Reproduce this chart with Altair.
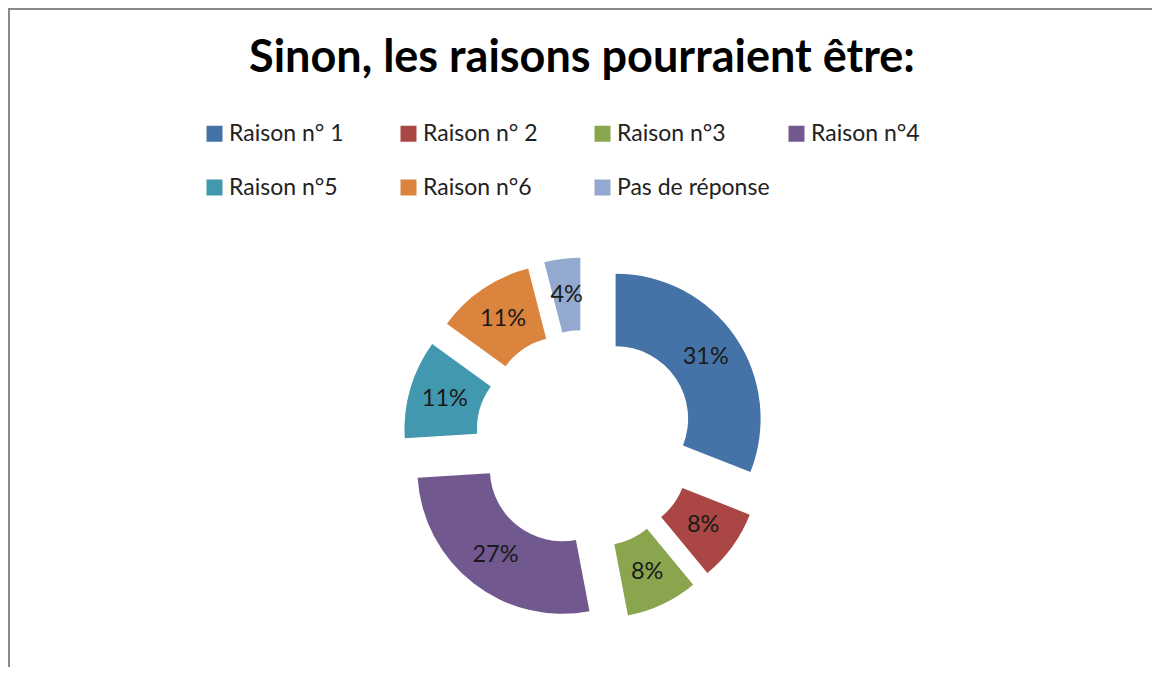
import altair as alt
import pandas as pd

# ---- data ----
title_text = "Sinon, les raisons pourraient être:"
categories = ["Raison n° 1", "Raison n° 2", "Raison n°3", "Raison n°4",
              "Raison n°5", "Raison n°6", "Pas de réponse"]
values = [31, 8, 8, 27, 11, 11, 4]
colors = ["#4572A7", "#AA4643", "#89A54E", "#71588F",
          "#4198AF", "#DB843D", "#93A9CF"]

df = pd.DataFrame({"category": categories, "value": values,
                   "idx": list(range(len(categories)))})

W, H = 1144, 659
CX, CY = 577, 431.5      # donut centre (view px)
EXPLODE = 37             # radial offset of each slice
R_OUT, R_IN = 145, 72.5
R_LAB = 109

base = alt.Chart(df).transform_joinaggregate(
    total="sum(value)"
).transform_window(
    cum="sum(value)", sort=[alt.SortField("idx")], frame=[None, 0]
).transform_calculate(
    t1="2*PI*(datum.cum - datum.value)/datum.total",
    t2="2*PI*datum.cum/datum.total",
).transform_calculate(
    tm="(datum.t1 + datum.t2)/2"
).transform_calculate(
    px=f"{CX} + {EXPLODE}*sin(datum.tm)",
    py=f"{CY} - {EXPLODE}*cos(datum.tm)",
).transform_calculate(
    lx=f"datum.px + {R_LAB}*sin(datum.tm)",
    ly=f"datum.py - {R_LAB}*cos(datum.tm)",
    label="datum.value + '%'",
)

arcs = base.mark_arc(radius=R_OUT, radius2=R_IN, stroke=None).encode(
    theta=alt.Theta("t1:Q", scale=None, stack=None),
    theta2="t2:Q",
    x=alt.X("px:Q", scale=None, axis=None),
    y=alt.Y("py:Q", scale=None, axis=None),
    color=alt.Color(
        "category:N",
        scale=alt.Scale(domain=categories, range=colors),
        sort=categories,
        legend=alt.Legend(
            orient="none", legendX=195, legendY=114,
            direction="horizontal", columns=4, title=None,
            symbolType="square", symbolSize=256, symbolStrokeWidth=0,
            symbolOpacity=1,
            labelFont="Lato", labelFontSize=23, labelColor="#222222",
            labelOffset=3, labelLimit=400,
            gridAlign="all", columnPadding=15, rowPadding=30,
        ),
    ),
)

labels = base.mark_text(font="Lato", fontSize=23.5, color="#1a1a1a",
                        align="center", baseline="middle").encode(
    x=alt.X("lx:Q", scale=None, axis=None),
    y=alt.Y("ly:Q", scale=None, axis=None),
    text="label:N",
)

frame_df = pd.DataFrame({"k": [0]})
top_line = alt.Chart(frame_df).mark_rule(color="#898989", strokeWidth=2).encode(
    x=alt.value(0), x2=alt.value(W), y=alt.value(1)
)
left_line = alt.Chart(frame_df).mark_rule(color="#898989", strokeWidth=2).encode(
    x=alt.value(1), y=alt.value(0), y2=alt.value(H)
)

chart = alt.layer(top_line, left_line, arcs, labels).properties(
    width=W, height=H,
    autosize=alt.AutoSizeParams(type="none"),
    padding=0,
    title=alt.TitleParams(
        text=title_text, font="Lato", fontSize=45, fontWeight="bold",
        color="#000000", anchor="middle", orient="top", frame="group",
        baseline="alphabetic", offset=-110, dx=2,
    ),
).configure_view(stroke=None).configure(background="white")

chart.save("out.html", embed_options={"renderer": "svg", "actions": False})
